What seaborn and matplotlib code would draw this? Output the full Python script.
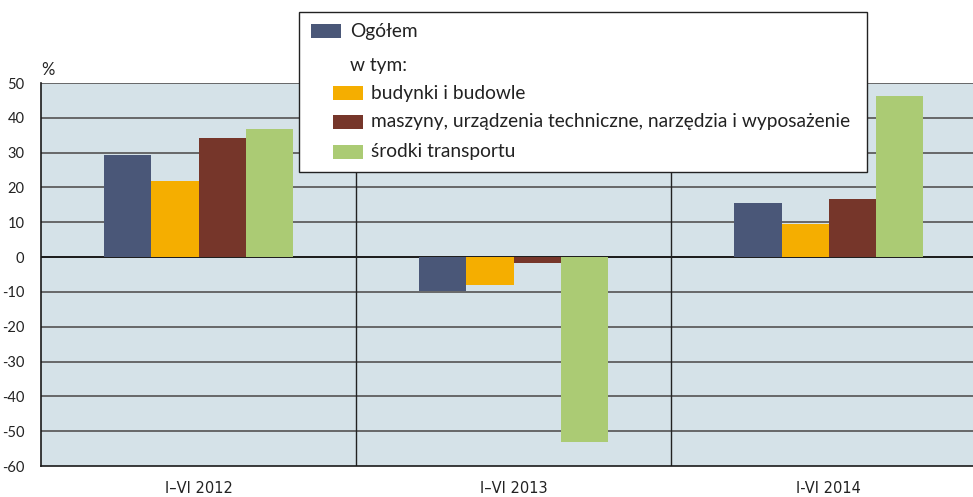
import matplotlib
matplotlib.use("Agg")
import matplotlib.pyplot as plt
from matplotlib.patches import Rectangle
import seaborn as sns
import pandas as pd

periods = ["I–VI 2012", "I–VI 2013", "I-VI 2014"]
series = ["Ogółem", "budynki i budowle",
          "maszyny, urządzenia techniczne, narzędzia i wyposażenie",
          "środki transportu"]
values = {
    "Ogółem": [29.3, -9.8, 15.5],
    "budynki i budowle": [21.8, -8.0, 9.5],
    "maszyny, urządzenia techniczne, narzędzia i wyposażenie": [34.2, -1.6, 16.7],
    "środki transportu": [36.8, -53.0, 46.3],
}
colors = ["#4a5778", "#f5ae00", "#76362a", "#abcb74"]
yticks = list(range(-60, 51, 10))

rows = []
for s in series:
    for p, v in zip(periods, values[s]):
        rows.append({"period": p, "series": s, "value": v})
df = pd.DataFrame(rows)

sns.set_style("white")
plt.rcParams["font.family"] = ["Lato", "DejaVu Sans"]

W, H = 973, 497
fig = plt.figure(figsize=(W / 100, H / 100), dpi=100)
ax = fig.add_axes([41 / W, 1 - 466 / H, 945.5 / W, (466 - 83) / H])
ax.set_facecolor("#d5e2e8")

sns.barplot(data=df, x="period", y="value", hue="series", hue_order=series,
            palette=dict(zip(series, colors)), width=0.6, gap=0, saturation=1,
            linewidth=0, legend=False, ax=ax, zorder=3)

ax.set_xlim(-0.5, 2.5)
ax.set_ylim(-60, 50)
ax.set_yticks(yticks)
ax.set_yticklabels([str(t) for t in yticks], fontsize=10.5, color="#222222")
ax.tick_params(axis="y", length=0, pad=12)
ax.tick_params(axis="x", length=0, pad=11, labelsize=10.5, labelcolor="#222222")
for lab in ax.get_xticklabels():
    lab.set_fontfamily(["Liberation Sans Narrow", "DejaVu Sans"])
ax.set_xlabel("")
ax.set_ylabel("")

for t in yticks:
    if t == 0:
        ax.axhline(t, color="#1a1a1a", lw=1.4, zorder=2)
    elif t != -60:
        ax.axhline(t, color="#5e5e5e", lw=1.3, zorder=2)
for xb in [0.5, 1.5]:
    ax.axvline(xb, color="#222222", lw=1.0, zorder=2)

for side in ["left", "bottom"]:
    ax.spines[side].set_color("#1a1a1a")
    ax.spines[side].set_linewidth(1.2)
ax.spines["top"].set_visible(False)
ax.spines["right"].set_visible(False)

fig.text(41 / W, 1 - 70 / H, "%", fontsize=12, color="#222222", va="center")

# legend drawn as a box above the plot
def fx(x):
    return x / W

def fy(y):
    return 1 - y / H

fig.add_artist(Rectangle((fx(299), fy(172)), fx(867) - fx(299), fy(12) - fy(172),
                         transform=fig.transFigure, facecolor="white",
                         edgecolor="#222222", lw=1.0, zorder=10))
fig.add_artist(Rectangle((fx(311), fy(38)), fx(341) - fx(311), fy(24) - fy(38),
                         transform=fig.transFigure, facecolor=colors[0],
                         edgecolor="none", zorder=11))
fs = 13.8
fig.text(fx(350), fy(31), series[0], fontsize=fs, va="center", color="#222222", zorder=11)
fig.text(fx(350), fy(65), "w tym:", fontsize=fs, va="center", color="#222222", zorder=11)
for s, c, yc in zip(series[1:], colors[1:], [93, 122, 152]):
    fig.add_artist(Rectangle((fx(333), fy(yc + 7)), fx(363) - fx(333), fy(yc - 7) - fy(yc + 7),
                             transform=fig.transFigure, facecolor=c,
                             edgecolor="none", zorder=11))
    fig.text(fx(371), fy(yc), s, fontsize=fs, va="center", color="#222222", zorder=11)

fig.savefig("out.png", dpi=100)
